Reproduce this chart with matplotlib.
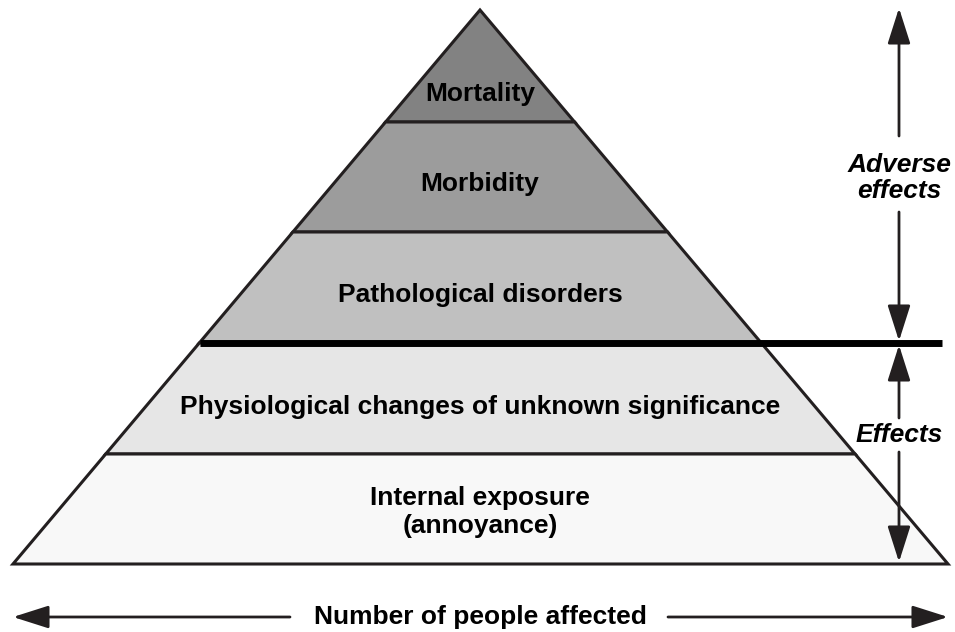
import matplotlib
matplotlib.use('Agg')
import matplotlib.pyplot as plt
from matplotlib.patches import Polygon

# pyramid tiers, top to bottom (y positions in pixels of the picture)
tier_labels = ['Mortality', 'Morbidity', 'Pathological disorders',
               'Physiological changes of unknown significance',
               'Internal exposure\n(annoyance)']
tier_tops = [10, 122, 232, 343, 454]
tier_bottoms = [122, 232, 343, 454, 564]
label_y = [94, 184, 295, 407, 512]
tier_colors = ['#828282', '#9c9c9c', '#c0c0c0', '#e6e6e6', '#f8f8f8']
side_labels = ['Adverse\neffects', 'Effects']
bottom_label = 'Number of people affected'

apex_x, apex_y = 480, 10
base_left, base_right, base_y = 13, 948, 564

def edges(y):
    f = (y - apex_y) / (base_y - apex_y)
    return apex_x - f * (apex_x - base_left), apex_x + f * (base_right - apex_x)

plt.rcParams['font.family'] = ['Liberation Sans', 'DejaVu Sans']
fig = plt.figure(figsize=(9.55, 6.32), dpi=100)
ax = fig.add_axes([0, 0, 1, 1])
ax.set_xlim(0, 955)
ax.set_ylim(632, 0)
ax.axis('off')

for lab, t, b, c, ty in zip(tier_labels, tier_tops, tier_bottoms, tier_colors, label_y):
    lt, rt = edges(t)
    lb, rb = edges(b)
    ax.add_patch(Polygon([(lt, t), (rt, t), (rb, b), (lb, b)], closed=True,
                         facecolor=c, edgecolor='#231f20', linewidth=2.2, joinstyle='miter'))
    ax.text(apex_x, ty, lab, ha='center', va='center', fontsize=19,
            fontweight='bold', color='black', linespacing=1.2)

# thick divider between adverse effects and effects
ax.plot([200, 942], [343, 343], color='black', linewidth=5, solid_capstyle='butt')

ap = dict(arrowstyle='-|>,head_length=1.1,head_width=0.35', color='#231f20',
          linewidth=2, mutation_scale=20, shrinkA=0, shrinkB=0)
xa = 899
ax.annotate('', xy=(xa, 8), xytext=(xa, 136), arrowprops=ap)
ax.annotate('', xy=(xa, 341), xytext=(xa, 212), arrowprops=ap)
ax.annotate('', xy=(xa, 345), xytext=(xa, 418), arrowprops=ap)
ax.annotate('', xy=(xa, 562), xytext=(xa, 452), arrowprops=ap)
ax.text(xa, 178, side_labels[0], ha='center', va='center', fontsize=19,
        fontweight='bold', style='italic', linespacing=1.15)
ax.text(xa, 435, side_labels[1], ha='center', va='center', fontsize=19,
        fontweight='bold', style='italic')

ax.annotate('', xy=(13, 617), xytext=(290, 617), arrowprops=ap)
ax.annotate('', xy=(948, 617), xytext=(668, 617), arrowprops=ap)
ax.text(480, 617, bottom_label, ha='center', va='center', fontsize=19,
        fontweight='bold')

fig.savefig('out.png', dpi=100)
